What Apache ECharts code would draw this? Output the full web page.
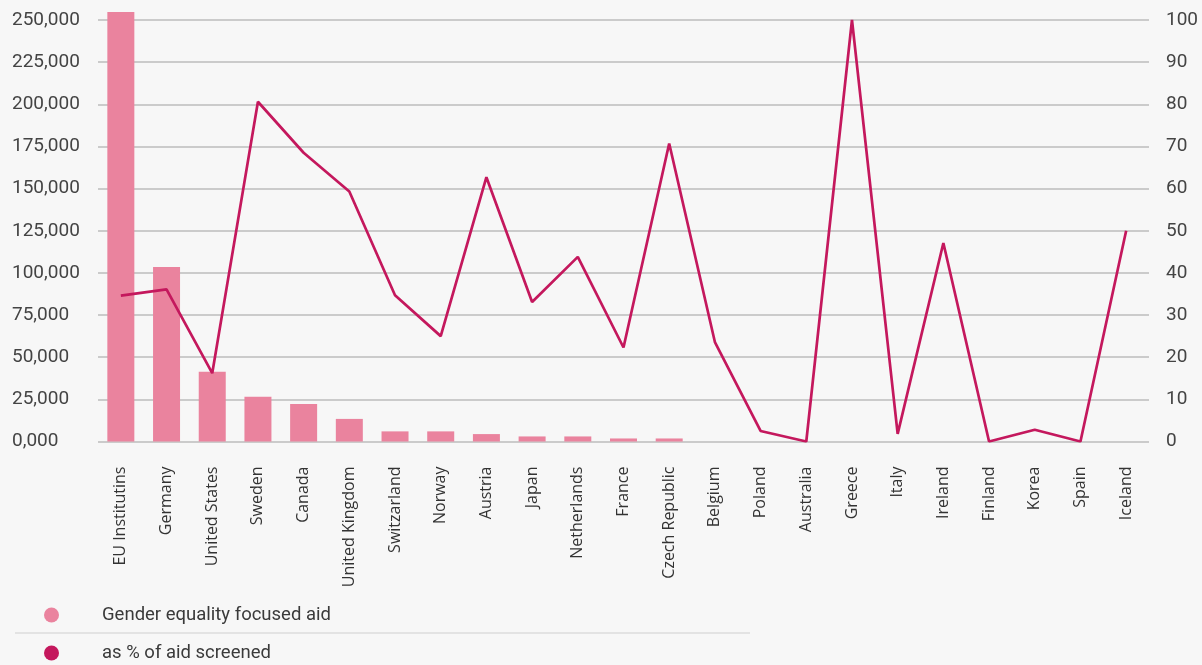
<!DOCTYPE html>
<html>
<head>
<meta charset="utf-8">
<script src="https://cdn.jsdelivr.net/npm/echarts@6/dist/echarts.min.js"></script>
<style>
html,body{margin:0;padding:0;background:#f7f7f7;}
#chart{width:1202px;height:665px;}
</style>
</head>
<body>
<div id="chart"></div>
<script>
const categories = ["EU Institutins","Germany","United States","Sweden","Canada","United Kingdom","Switzarland","Norway","Austria","Japan","Netherlands","France","Czech Republic","Belgium","Poland","Australia","Greece","Italy","Ireland","Finland","Korea","Spain","Iceland"];
const aidValues = [254700,103500,41300,26500,22300,13400,6000,6000,4400,3000,3000,1800,1800,0,0,0,0,0,0,0,0,0,0];
const pctScreened = [34.6,36.1,16.2,80.6,68.5,59.3,34.7,25.0,62.7,33.1,43.8,22.3,70.7,23.6,2.5,0,100,1.8,47.1,0,2.8,0,50];
const leftTickLabels = ["0,000","25,000","50,000","75,000","100,000","125,000","150,000","175,000","200,000","225,000","250,000"];
const rightTickLabels = ["0","10","20","30","40","50","60","70","80","90","100"];
const seriesNames = ["Gender equality focused aid","as % of aid screened"];

const narrow = "'Roboto', sans-serif";
const chart = echarts.init(document.getElementById('chart'), null, {renderer:'canvas'});
chart.setOption({
  backgroundColor:'#f7f7f7',
  animation:false,
  grid:{left:98, right:53, top:20, bottom:223.5, containLabel:false},
  legend:{
    orient:'vertical', left:44, top:604, padding:0, height:80, icon:'circle', itemWidth:15, itemHeight:15, itemGap:16,
    data:seriesNames,
    textStyle:{fontFamily:narrow, fontSize:18.5, color:'#3a3a3a', lineHeight:22, padding:[0,0,0,38]}
  },
  graphic:[{type:'line', shape:{x1:15,y1:633,x2:750,y2:633}, style:{stroke:'#dddddd', lineWidth:1.5}, silent:true}],
  xAxis:{
    type:'category', data:categories,
    axisLine:{show:false}, axisTick:{show:false},
    axisLabel:{rotate:90, margin:25, fontFamily:"'Open Sans', sans-serif", fontSize:16, color:'#333', interval:0}
  },
  yAxis:[
    {type:'value', min:0, max:250000, interval:25000, position:'left',
     axisLine:{show:false}, axisTick:{show:false},
     splitLine:{lineStyle:{color:'#bdbdbd', width:1.5}},
     axisLabel:{align:'left', margin:86, fontFamily:narrow, fontSize:19, color:'#444',
       formatter:(v,i)=>leftTickLabels[i]}},
    {type:'value', min:0, max:100, interval:10, position:'right',
     axisLine:{show:false}, axisTick:{show:false}, splitLine:{show:false},
     axisLabel:{align:'left', margin:17, fontFamily:narrow, fontSize:19, color:'#444',
       formatter:(v,i)=>rightTickLabels[i]}}
  ],
  series:[
    {name:seriesNames[0], type:'bar', data:aidValues, yAxisIndex:0, barWidth:27, clip:false,
     itemStyle:{color:'#ea839e'}},
    {name:seriesNames[1], type:'line', data:pctScreened, yAxisIndex:1, showSymbol:false, symbol:'none',
     lineStyle:{color:'#c4185d', width:2.7}, itemStyle:{color:'#c4185d'}}
  ]
});
</script>
</body>
</html>
